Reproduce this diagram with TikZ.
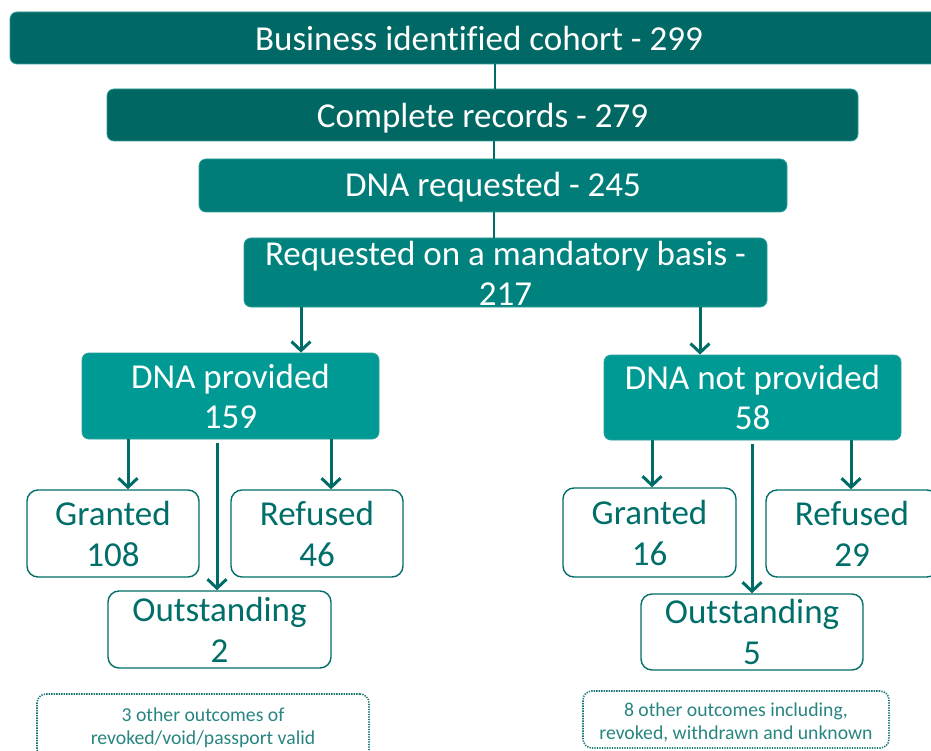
\documentclass[tikz,border=0pt]{standalone}
\usepackage{fontspec}
\setmainfont{Carlito}[Ligatures=NoCommon]
\usetikzlibrary{arrows.meta}

\definecolor{tealA}{RGB}{0,105,101}
\definecolor{tealB}{RGB}{0,103,98}
\definecolor{tealC}{RGB}{0,125,121}
\definecolor{tealD}{RGB}{0,130,126}
\definecolor{tealE}{RGB}{0,154,148}
\definecolor{edgeteal}{RGB}{40,160,152}
\definecolor{linkteal}{RGB}{0,108,103}
\definecolor{outteal}{RGB}{0,110,105}
\definecolor{noteteal}{RGB}{40,133,129}
\definecolor{notedge}{RGB}{25,118,113}

% lower a (possibly multi-line) label inside its box without growing the box
\newcommand\dropped[2]{\raisebox{-#1}[\dimexpr\height-12pt\relax][\dimexpr\depth-12pt\relax]{\begin{tabular}{@{}c@{}}#2\end{tabular}}}

\tikzset{
  stage/.style={rounded corners=7pt, draw=edgeteal, line width=0.8pt,
    text=white, align=center, inner sep=0pt,
    font=\fontsize{35}{40}\selectfont},
  outcome/.style={rounded corners=11pt, draw=outteal, fill=white, line width=1.4pt,
    text=outteal, align=center, inner sep=0pt,
    font=\fontsize{35}{41}\selectfont},
  note/.style={rounded corners=9pt, draw=notedge, line width=1.6pt,
    dash pattern=on 1.3pt off 1.2pt,
    text=noteteal, align=center, inner sep=0pt,
    font=\fontsize{19.7}{23}\selectfont},
  link/.style={draw=linkteal, line width=2pt},
  flow/.style={draw=linkteal, line width=3pt,
    -{Straight Barb[length=9pt,width=19pt]}},
}

\begin{document}
\begin{tikzpicture}[x=1pt,y=-1pt]
\useasboundingbox (0,0) rectangle (931,751);

% cohort funnel
\node[stage, fill=tealA, minimum width=938pt, minimum height=52pt] (cohort) at (479,38) {Business identified cohort - 299};
\node[stage, fill=tealB, minimum width=751pt, minimum height=52pt] (complete) at (482.5,115) {\dropped{5pt}{Complete records - 279}};
\node[stage, fill=tealC, minimum width=588pt, minimum height=53pt] (requested) at (493,185.5) {\dropped{3pt}{DNA requested - 245}};
\node[stage, fill=tealD, minimum width=523pt, minimum height=69pt] (mandatory) at (505.5,272.5) {\dropped{5pt}{Requested on a mandatory basis -\\217}};

% split by DNA provision
\node[stage, fill=tealE, minimum width=297pt, minimum height=86pt] (provided) at (230.5,396) {DNA provided\\159};
\node[stage, fill=tealE, minimum width=297pt, minimum height=85pt] (notprovided) at (752.5,397.5) {DNA not provided\\58};

% outcomes, DNA provided
\node[outcome, minimum width=172pt, minimum height=87pt] (grantedA) at (113,533.5) {Granted\\108};
\node[outcome, minimum width=172pt, minimum height=87pt] (refusedA) at (317,533.5) {Refused\\46};
\node[outcome, minimum width=223pt, minimum height=77pt] (outstandingA) at (219.5,629.5) {Outstanding\\2};

% outcomes, DNA not provided
\node[outcome, minimum width=173pt, minimum height=89pt] (grantedB) at (649.5,532.5) {Granted\\16};
\node[outcome, minimum width=172pt, minimum height=87pt] (refusedB) at (852,533.5) {Refused\\29};
\node[outcome, minimum width=222pt, minimum height=76pt] (outstandingB) at (752,632) {Outstanding\\5};

% other outcomes
\node[note, minimum width=332pt, minimum height=64pt] (otherA) at (203,726) {\dropped{2pt}{3 other outcomes of\\revoked/void/passport valid}};
\node[note, minimum width=306pt, minimum height=57pt] (otherB) at (736,719.5) {\dropped{4pt}{8 other outcomes including,\\revoked, withdrawn and unknown}};

% funnel links
\draw[link] (cohort.south -| 495,0) -- (complete.north -| 495,0);
\draw[link] (complete.south -| 494,0) -- (requested.north -| 494,0);
\draw[link] (requested.south -| 494,0) -- (mandatory.north -| 494,0);

% split arrows
\draw[flow] (mandatory.south -| 301,0) -- (provided.north -| 301,0);
\draw[flow] (mandatory.south -| 700,0) -- (notprovided.north -| 700,0);

% outcome arrows
\draw[flow] (provided.south -| 128,0) -- (grantedA.north -| 128,0);
\draw[flow] (provided.south -| 331,0) -- (refusedA.north -| 331,0);
\draw[flow] ([yshift=-4pt]provided.south -| 217,0) -- (outstandingA.north -| 217,0);
\draw[flow] (notprovided.south -| 652,0) -- (grantedB.north -| 652,0);
\draw[flow] (notprovided.south -| 851,0) -- (refusedB.north -| 851,0);
\draw[flow] ([yshift=-4pt]notprovided.south -| 752,0) -- (outstandingB.north -| 752,0);
\end{tikzpicture}
\end{document}
